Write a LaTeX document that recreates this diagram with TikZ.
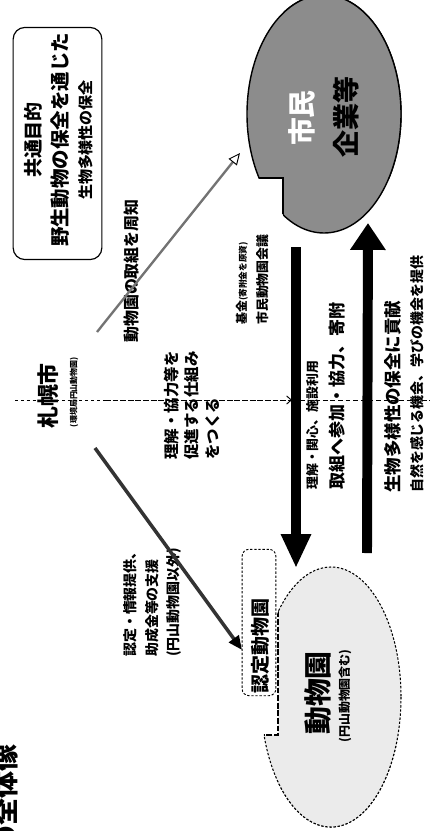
\documentclass[tikz,border=0pt]{standalone}
\usepackage{fontspec}
\setmainfont{Noto Sans CJK JP}
\usetikzlibrary{arrows.meta}
\newcommand\myfs[1]{\fontsize{#1}{#1}\selectfont\bfseries}
\begin{document}
\begin{tikzpicture}[x=0.03cm,y=-0.03cm,
  txt/.style={rotate=90, inner sep=0pt},
  tl/.style={txt, anchor=west},
  thickarrow/.style={line width=8.5pt},
  dotline/.style={line width=0.9pt, dash pattern=on 2pt off 1.5pt},
  citizen/.style={fill=black!45, draw, line width=1.2pt},
  zoofill/.style={fill=black!8, draw, dotline},
  ]
\useasboundingbox (0,0) rectangle (430,831);
\fill[white] (0,0) rectangle (430,831);

% ---------- common goal box
\node[draw, line width=1pt, rounded corners=10pt, minimum width=75.7pt, minimum height=198.1pt, inner sep=0pt] (goal) at (57.5,143.5) {};
\node[txt, font=\myfs{16.2pt}] (g1) at (33,140) {共通目的};
\node[txt, font=\myfs{16.6pt}] (g2) at (60,140) {野生動物の保全を通じた};
\node[txt, font=\myfs{12.8pt}] (g3) at (86,140) {生物多様性の保全};

% ---------- citizens / companies shape (ellipse with notch)
\begin{scope}
  \clip (283,-20) rectangle (430,260);
  \path[citizen] (324,114) ellipse [x radius=77, y radius=119];
\end{scope}
\begin{scope}
  \clip (200,-20) rectangle (430,178);
  \path[citizen] (324,114) ellipse [x radius=77, y radius=119];
\end{scope}
\begin{scope}
  \clip (324,114) ellipse [x radius=77, y radius=119];
  \draw[line width=1.2pt] (200,178) -- (283,178) -- (283,260);
\end{scope}
\node[txt, font=\myfs{23.8pt}, text=white] (shimin) at (302,118) {市民};
\node[txt, font=\myfs{23pt}] (kigyo) at (346,117) {企業等};

% ---------- Sapporo city
\node[txt, font=\myfs{18.7pt}] (sapporo) at (48,396) {札幌市};
\node[txt, font=\myfs{6.8pt}] (sapporosub) at (74,392) {(環境局円山動物園)};

% dashed line
\coordinate (dl0) at (15,400);
\coordinate (dl1) at (105,400);
\coordinate (dl2) at (292,400);
\coordinate (dl3) at (300,400);
\coordinate (dl4) at (430,400);
\draw[line width=0.6pt, dash pattern=on 2.5pt off 2.5pt] (dl0) -- (dl1);
\draw[line width=0.8pt, dash pattern=on 5pt off 1.5pt, -{Straight Barb[length=4pt,width=7pt]}] (dl1) -- (dl2);
\draw[line width=0.6pt, dash pattern=on 4pt off 2.5pt] (dl3) -- (dl4);

% ---------- thick arrows
\coordinate (dnS) at (296,247);
\coordinate (dnE) at (296,568);
\draw[thickarrow, -{Triangle[length=29pt,width=24pt]}] (dnS) -- (dnE);
\coordinate (upS) at (367,553);
\coordinate (upE) at (368,223);
\draw[thickarrow, -{Triangle[length=23pt,width=29pt]}] (upS) -- (upE);

% ---------- texts
\node[tl, font=\myfs{13.2pt}] (r1) at (172,460) {理解・協力等を};
\node[tl, font=\myfs{13.2pt}] (r2) at (192,460) {促進する仕組み};
\node[tl, font=\myfs{13.2pt}] (r3) at (213,460) {をつくる};

\node[tl, font=\myfs{10.2pt}] (k1) at (242,325) {基金{\myfs{7.4pt}(寄附金を原資)}};
\node[tl, font=\myfs{11pt}] (k2) at (263,325) {市民動物園会議};

\node[tl, font=\myfs{11pt}] (b1) at (313,490) {理解・関心、施設利用};
\node[tl, font=\myfs{14.5pt}] (b2) at (337,490) {取組へ参加・協力、寄附};

\node[tl, font=\myfs{14.9pt}] (c1) at (393,493) {生物多様性の保全に貢献};
\node[tl, font=\myfs{11.9pt}] (c2) at (417,493) {自然を感じる機会、学びの機会を提供};

\node[tl, font=\myfs{13.6pt}] (shuchi) at (132,343) {動物園の取組を周知};

\node[tl, font=\myfs{11.9pt}] (s1) at (130,657) {認定・情報提供、};
\node[tl, font=\myfs{11.9pt}] (s2) at (152,657) {助成金等の支援};
\node[tl, font=\myfs{11.9pt}] (s3) at (174,657) {(円山動物園以外)};

% ---------- slanted arrows
\coordinate (a1s) at (97,332);
\coordinate (a1e) at (240,153);
\draw[line width=2pt, draw=black!55, -{Triangle[open, length=10pt, width=9pt, line width=0.8pt, color=black]}] (a1s) -- (a1e);
\coordinate (a2s) at (95,448);
\coordinate (a2e) at (242,650);
\draw[line width=3pt, draw=black!80, -{Triangle[length=12pt, width=10pt, color=black]}] (a2s) -- (a2e);

% ---------- zoo shape (ellipse with notch)
\begin{scope}
  \clip (278,520) rectangle (430,840);
  \path[zoofill] (331,697) ellipse [x radius=70, y radius=130];
\end{scope}
\begin{scope}
  \clip (200,735) rectangle (430,840);
  \path[zoofill] (331,697) ellipse [x radius=70, y radius=130];
\end{scope}
\begin{scope}
  \clip (331,697) ellipse [x radius=70, y radius=130];
  \draw[line width=0.9pt, dash pattern=on 5pt off 1.5pt] (278,520) -- (278,735) -- (200,735);
\end{scope}
\node[draw, dotline, line width=0.8pt, rounded corners=6pt, minimum width=28.9pt, minimum height=125pt, inner sep=0pt] (nintei) at (259,622.5) {};
\node[txt, font=\myfs{16.2pt}] (ninteitxt) at (260,646) {認定動物園};
\node[txt, font=\myfs{23.8pt}] (zoo) at (318,693) {動物園};
\node[txt, font=\myfs{10.2pt}] (zoosub) at (345,696) {(円山動物園含む)};

% ---------- title (cut off)
\node[txt, anchor=east, font=\myfs{23pt}] (title) at (5,744) {の全体像};
\end{tikzpicture}
\end{document}
